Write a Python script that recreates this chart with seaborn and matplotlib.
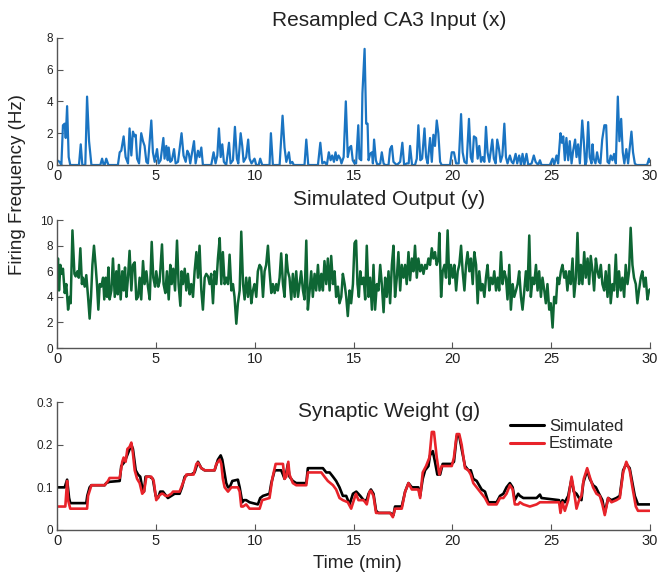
import pandas as pd
import seaborn as sns
import matplotlib
matplotlib.use("Agg")
import matplotlib.pyplot as plt

# Resampled CA3 input (x): time in minutes, firing frequency in Hz
x_t = [0.00, 0.13, 0.22, 0.30, 0.39, 0.44, 0.51, 0.59, 0.67, 1.11, 1.20, 1.28, 1.43, 1.52, 1.62, 1.74,
       2.19, 2.28, 2.36, 2.41, 2.49, 2.60, 3.08, 3.17, 3.25, 3.37, 3.47, 3.59, 3.67, 3.76, 3.84, 3.93,
       3.98, 4.05, 4.15, 4.26, 4.35, 4.43, 4.52, 4.60, 4.77, 4.85, 4.94, 5.06, 5.14, 5.24, 5.38, 5.44,
       5.53, 5.60, 5.65, 5.73, 5.81, 5.92, 6.00, 6.12, 6.30, 6.40, 6.51, 6.59, 6.67, 6.74, 6.93, 7.01,
       7.13, 7.21, 7.30, 7.38, 7.80, 7.92, 8.02, 8.11, 8.19, 8.28, 8.36, 8.44, 8.56, 8.70, 8.78, 8.90,
       9.00, 9.10, 9.17, 9.29, 9.37, 9.44, 9.57, 9.67, 9.74, 9.84, 9.99, 10.08, 10.20, 10.28, 10.38,
       10.75, 10.82, 10.92, 11.26, 11.41, 11.51, 11.60, 11.73, 11.80, 11.90, 11.98, 12.52, 12.61, 12.71,
       13.20, 13.32, 13.42, 13.53, 13.65, 13.75, 13.84, 13.92, 14.01, 14.09, 14.16, 14.24, 14.33, 14.39,
       14.50, 14.61, 14.71, 14.80, 14.88, 14.96, 15.05, 15.13, 15.24, 15.30, 15.39, 15.45, 15.56, 15.64,
       15.71, 15.76, 15.84, 15.93, 15.98, 16.04, 16.13, 16.21, 16.35, 16.43, 16.52, 16.60, 16.77, 16.85,
       16.94, 17.02, 17.10, 17.19, 17.36, 17.47, 17.56, 17.69, 17.79, 17.86, 17.96, 18.11, 18.20, 18.28,
       18.38, 18.47, 18.59, 18.67, 18.75, 18.87, 18.96, 19.04, 19.12, 19.21, 19.29, 19.38, 19.46, 19.88,
       19.97, 20.08, 20.19, 20.32, 20.44, 20.52, 20.61, 20.72, 20.84, 20.93, 21.01, 21.09, 21.20, 21.28,
       21.36, 21.45, 21.53, 21.62, 21.70, 21.78, 21.87, 22.02, 22.10, 22.19, 22.27, 22.36, 22.44, 22.53,
       22.63, 22.71, 22.79, 22.91, 23.00, 23.08, 23.20, 23.28, 23.38, 23.47, 23.55, 23.64, 23.75, 23.84,
       24.01, 24.12, 24.21, 24.34, 24.43, 24.51, 24.93, 25.07, 25.15, 25.27, 25.35, 25.47, 25.54, 25.61,
       25.69, 25.77, 25.86, 25.94, 26.03, 26.11, 26.21, 26.28, 26.36, 26.45, 26.57, 26.65, 26.72, 26.78,
       26.87, 26.95, 27.04, 27.09, 27.15, 27.24, 27.32, 27.41, 27.49, 27.58, 27.69, 27.78, 27.85, 27.93,
       28.01, 28.10, 28.18, 28.27, 28.37, 28.45, 28.54, 28.62, 28.70, 28.80, 28.89, 29.06, 29.14, 29.23,
       29.31, 29.85, 29.95, 29.98]
x_val = [0.3, 0.2, 0.0, 2.5, 2.6, 1.7, 3.7, 0.5, 0.0, 0.0, 1.3, 0.0, 0.0, 4.3, 1.5, 0.0,
         0.0, 0.4, 0.0, 0.0, 0.4, 0.0, 0.0, 0.8, 0.9, 1.8, 0.5, 0.1, 2.3, 0.6, 2.1, 1.8,
         1.9, 0.4, 0.1, 2.0, 1.5, 1.2, 0.2, 0.1, 2.8, 0.8, 0.2, 1.0, 0.1, 0.3, 1.7, 0.4,
         1.2, 0.3, 1.1, 0.2, 0.3, 1.0, 0.1, 0.2, 2.0, 0.6, 0.2, 0.9, 0.7, 0.1, 1.5, 0.1,
         0.9, 0.5, 1.1, 0.0, 0.0, 0.8, 0.1, 0.6, 2.3, 0.5, 1.3, 0.2, 0.0, 1.4, 0.1, 0.3,
         2.4, 0.4, 0.1, 2.0, 1.2, 0.2, 0.5, 1.6, 0.4, 0.1, 0.4, 0.0, 0.0, 0.4, 0.0,
         0.0, 2.0, 0.0, 0.0, 3.1, 1.1, 0.2, 0.8, 0.1, 0.2, 0.0, 0.0, 1.6, 0.0,
         0.0, 1.4, 0.1, 0.2, 0.0, 0.8, 0.3, 0.6, 0.2, 0.8, 0.3, 0.6, 0.4, 0.1,
         0.5, 4.0, 0.5, 1.1, 1.2, 0.3, 0.1, 0.1, 2.5, 0.4, 0.3, 4.5, 7.3, 2.6,
         2.6, 0.3, 0.7, 0.8, 0.1, 1.6, 0.3, 0.0, 0.1, 0.8, 0.1, 0.0, 0.0, 1.0,
         1.2, 0.2, 0.1, 0.0, 0.2, 1.4, 0.0, 0.1, 0.1, 1.2, 0.0, 0.0, 0.4, 2.5,
         0.3, 0.4, 2.3, 0.5, 0.1, 1.7, 0.2, 1.9, 1.2, 2.8, 2.0, 0.2, 0.0, 0.0,
         0.8, 0.8, 0.1, 0.1, 3.2, 0.8, 0.2, 0.1, 2.9, 0.5, 0.2, 1.8, 1.7, 0.4,
         1.2, 0.2, 0.5, 0.2, 2.4, 0.8, 0.2, 1.6, 0.4, 0.1, 1.6, 1.0, 0.2, 0.6,
         2.6, 0.5, 0.1, 0.6, 0.2, 0.1, 0.7, 0.1, 0.6, 0.0, 0.7, 0.0, 0.7, 0.0,
         0.1, 0.6, 0.2, 0.0, 0.3, 0.0, 0.0, 0.4, 0.0, 0.6, 0.1, 2.0, 1.4, 1.8,
         0.3, 1.7, 0.3, 1.5, 0.1, 0.9, 1.6, 0.5, 1.3, 0.1, 2.8, 1.5, 0.0, 0.2,
         2.7, 0.5, 0.1, 1.3, 0.4, 0.1, 0.8, 0.2, 0.1, 1.6, 2.5, 2.5, 0.2, 0.1,
         0.6, 0.3, 0.7, 0.1, 4.3, 1.5, 2.9, 0.8, 0.1, 1.0, 0.1, 2.1, 0.8, 0.1,
         0.0, 0.0, 0.4, 0.2]

# Simulated output (y)
y_t = [0.00, 0.05, 0.10, 0.17, 0.24, 0.30, 0.39, 0.47, 0.56, 0.64, 0.69, 0.78, 0.88, 0.94, 1.03, 1.10,
       1.18, 1.26, 1.31, 1.40, 1.48, 1.57, 1.65, 1.72, 1.79, 1.87, 1.96, 2.02, 2.09, 2.16, 2.24, 2.33,
       2.39, 2.46, 2.53, 2.60, 2.66, 2.75, 2.83, 2.92, 3.00, 3.07, 3.13, 3.22, 3.30, 3.37, 3.44, 3.51,
       3.59, 3.67, 3.76, 3.84, 3.93, 4.01, 4.10, 4.18, 4.26, 4.35, 4.43, 4.52, 4.60, 4.69, 4.79, 4.87,
       4.96, 5.02, 5.12, 5.19, 5.31, 5.39, 5.48, 5.56, 5.65, 5.73, 5.80, 5.88, 5.97, 6.07, 6.15, 6.24,
       6.30, 6.37, 6.46, 6.54, 6.62, 6.71, 6.79, 6.88, 6.96, 7.05, 7.13, 7.21, 7.30, 7.38, 7.47, 7.55,
       7.64, 7.72, 7.80, 7.89, 7.97, 8.06, 8.14, 8.23, 8.31, 8.39, 8.48, 8.56, 8.65, 8.73, 8.82, 8.90,
       8.98, 9.07, 9.15, 9.24, 9.32, 9.41, 9.49, 9.57, 9.66, 9.74, 9.83, 9.91, 9.99, 10.08, 10.16, 10.25,
       10.33, 10.42, 10.50, 10.58, 10.67, 10.75, 10.84, 10.92, 11.01, 11.09, 11.17, 11.26, 11.34, 11.43,
       11.51, 11.60, 11.68, 11.76, 11.85, 11.93, 12.02, 12.10, 12.19, 12.27, 12.35, 12.44, 12.52, 12.61,
       12.69, 12.78, 12.86, 12.94, 13.03, 13.11, 13.20, 13.28, 13.37, 13.45, 13.53, 13.62, 13.70, 13.79,
       13.87, 13.96, 14.04, 14.12, 14.21, 14.29, 14.38, 14.46, 14.55, 14.63, 14.71, 14.80, 14.88, 14.97,
       15.05, 15.13, 15.20, 15.27, 15.34, 15.42, 15.51, 15.59, 15.67, 15.76, 15.84, 15.93, 16.01, 16.09,
       16.18, 16.26, 16.35, 16.43, 16.52, 16.60, 16.68, 16.77, 16.85, 16.94, 17.02, 17.10, 17.19, 17.27,
       17.36, 17.44, 17.53, 17.61, 17.69, 17.78, 17.86, 17.95, 18.03, 18.11, 18.20, 18.28, 18.37, 18.45,
       18.54, 18.62, 18.70, 18.79, 18.87, 18.96, 19.04, 19.12, 19.21, 19.29, 19.34, 19.43, 19.51, 19.60,
       19.68, 19.76, 19.85, 19.93, 20.02, 20.10, 20.19, 20.27, 20.35, 20.44, 20.52, 20.61, 20.69, 20.77,
       20.86, 20.94, 21.03, 21.11, 21.20, 21.28, 21.36, 21.45, 21.53, 21.62, 21.70, 21.78, 21.87, 21.95,
       22.04, 22.12, 22.21, 22.29, 22.37, 22.46, 22.54, 22.63, 22.71, 22.79, 22.88, 22.96, 23.05, 23.13,
       23.22, 23.30, 23.38, 23.47, 23.55, 23.64, 23.72, 23.80, 23.89, 23.97, 24.06, 24.14, 24.23, 24.31,
       24.39, 24.48, 24.56, 24.65, 24.73, 24.81, 24.90, 24.98, 25.07, 25.15, 25.24, 25.32, 25.40, 25.49,
       25.57, 25.66, 25.74, 25.82, 25.91, 25.99, 26.08, 26.16, 26.25, 26.33, 26.41, 26.50, 26.58, 26.67,
       26.75, 26.84, 26.92, 27.00, 27.09, 27.17, 27.26, 27.34, 27.42, 27.51, 27.59, 27.68, 27.76, 27.85,
       27.93, 28.01, 28.10, 28.18, 28.27, 28.35, 28.43, 28.52, 28.60, 28.69, 28.77, 28.86, 28.94, 29.02,
       29.11, 29.19, 29.28, 29.36, 29.44, 29.53, 29.61, 29.70, 29.78, 29.87, 29.95, 30.00]
y_val = [6.2, 7.0, 4.5, 6.5, 5.8, 6.2, 4.3, 5.0, 3.0, 4.0, 3.5, 9.2, 5.8, 5.6, 6.0, 5.5,
         7.8, 5.0, 5.5, 4.8, 5.7, 4.0, 2.3, 4.0, 6.5, 8.0, 6.3, 5.0, 3.0, 5.0, 4.8, 5.5,
         3.8, 5.5, 4.0, 6.3, 3.8, 4.5, 7.0, 4.0, 6.0, 4.2, 6.5, 3.8, 6.0, 4.5, 6.3, 4.0,
         5.5, 7.6, 4.5, 6.5, 6.7, 3.8, 4.0, 5.5, 3.8, 6.8, 5.0, 6.0, 4.8, 3.8, 8.3, 5.5,
         4.8, 6.0, 4.8, 5.2, 8.1, 5.0, 4.3, 6.0, 3.8, 6.5, 5.0, 6.2, 4.5, 8.4, 5.0, 3.3,
         6.0, 5.0, 6.2, 4.5, 5.8, 4.2, 5.0, 4.0, 6.0, 7.5, 5.5, 8.0, 4.5, 3.0, 5.5, 5.8,
         5.6, 5.0, 5.8, 3.5, 6.0, 5.0, 7.0, 8.6, 5.0, 7.5, 5.0, 5.5, 5.0, 7.3, 4.5, 5.0,
         4.0, 1.9, 3.5, 4.5, 9.1, 5.0, 3.8, 5.5, 4.0, 5.5, 3.5, 4.5, 5.0, 4.0, 6.0, 6.5,
         6.3, 4.0, 6.0, 6.5, 8.0, 6.0, 4.3, 5.0, 4.3, 5.0, 4.5, 5.5, 7.4, 5.0,
         4.0, 7.3, 6.0, 5.5, 3.8, 5.8, 4.0, 6.0, 4.0, 5.0, 6.0, 4.5, 3.8, 8.4,
         3.0, 4.5, 6.0, 4.0, 5.8, 4.5, 6.5, 4.5, 5.8, 4.5, 6.8, 5.0, 7.0, 4.5,
         7.2, 5.0, 6.0, 4.0, 4.8, 3.5, 4.0, 5.8, 5.0, 4.0, 2.5, 4.5, 3.5, 5.0,
         8.2, 8.4, 5.0, 4.0, 6.0, 5.0, 5.5, 3.8, 8.0, 4.0, 5.5, 3.0, 6.5, 3.0,
         5.0, 4.5, 6.5, 5.0, 2.8, 5.5, 4.0, 6.0, 3.5, 6.5, 8.0, 4.0, 5.5, 7.5,
         4.5, 6.5, 5.5, 6.5, 5.0, 7.5, 5.3, 7.0, 6.0, 8.0, 5.5, 7.0, 6.0, 6.5,
         5.8, 6.5, 6.2, 7.0, 6.5, 7.8, 7.0, 7.5, 6.5, 7.0, 9.0, 4.0, 6.0, 6.5,
         5.5, 9.2, 5.0, 6.5, 5.5, 6.5, 4.5, 6.0, 6.5, 8.0, 6.0, 4.5, 6.5, 7.5,
         6.0, 7.0, 5.0, 7.5, 6.5, 3.5, 6.0, 4.5, 5.0, 4.0, 5.5, 6.5, 4.5, 5.5,
         5.0, 6.0, 4.5, 5.5, 4.5, 7.5, 5.0, 6.0, 5.5, 3.8, 6.5, 3.0, 5.0, 4.0,
         4.5, 5.0, 6.0, 4.0, 3.0, 4.5, 6.0, 4.5, 8.8, 4.0, 5.5, 5.0, 6.5, 4.5,
         6.0, 4.0, 5.5, 4.5, 3.5, 5.0, 3.0, 3.5, 1.6, 4.0, 3.5, 5.5, 5.0, 6.0,
         6.5, 5.5, 6.0, 4.5, 6.0, 5.0, 7.0, 4.0, 5.5, 9.0, 5.0, 6.5, 5.0, 7.5,
         5.5, 7.0, 5.0, 7.2, 6.0, 4.5, 7.0, 6.0, 5.5, 6.5, 5.0, 4.5, 6.0, 4.0,
         6.5, 3.5, 5.0, 4.5, 7.3, 4.0, 6.0, 4.5, 5.5, 4.0, 6.5, 5.0, 6.0, 9.4,
         6.5, 5.5, 5.0, 3.5, 4.5, 5.5, 6.0, 4.8, 5.5, 3.8, 4.5, 4.6]

# Synaptic weight (g): simulated
sim_t = [0.00, 0.39, 0.51, 0.61, 0.67, 1.48, 1.53, 1.65, 1.74, 2.41, 2.49, 2.66, 3.17, 3.25, 3.42, 3.59,
         3.76, 3.84, 3.98, 4.10, 4.21, 4.31, 4.40, 4.48, 4.69, 4.85, 4.99, 5.11, 5.22, 5.36, 5.44, 5.61,
         5.78, 5.95, 6.20, 6.32, 6.46, 6.62, 6.79, 6.96, 7.13, 7.30, 7.47, 7.97, 8.14, 8.28, 8.36, 8.45,
         8.56, 8.65, 8.73, 8.87, 9.15, 9.24, 9.37, 9.46, 9.57, 9.74, 10.16, 10.28, 10.42, 10.75, 10.84,
         11.01, 11.34, 11.43, 11.51, 11.60, 11.68, 11.76, 11.93, 12.10, 12.61, 12.69, 13.45, 13.62, 13.79,
         13.96, 14.12, 14.29, 14.46, 14.63, 14.80, 14.97, 15.14, 15.34, 15.51, 15.67, 15.76, 15.88, 16.01,
         16.14, 16.26, 16.85, 17.02, 17.10, 17.44, 17.61, 17.78, 17.95, 18.28, 18.37, 18.50, 18.62, 18.79,
         18.87, 19.01, 19.12, 19.24, 19.38, 19.51, 19.97, 20.08, 20.22, 20.35, 20.47, 20.64, 20.81, 20.93,
         21.06, 21.23, 21.48, 21.65, 21.82, 22.24, 22.41, 22.58, 22.74, 22.91, 23.05, 23.16, 23.33, 23.42,
         23.59, 24.26, 24.43, 24.51, 25.40, 25.47, 25.57, 25.69, 25.86, 26.03, 26.14, 26.28, 26.41, 26.53,
         26.62, 26.82, 26.95, 27.12, 27.26, 27.42, 27.59, 27.71, 27.88, 28.05, 28.30, 28.47, 28.64, 28.80,
         28.97, 29.11, 29.23, 29.39, 29.98]
sim_val = [0.100, 0.100, 0.118, 0.075, 0.063, 0.063, 0.080, 0.100, 0.105, 0.105, 0.110, 0.113, 0.115,
           0.150, 0.160, 0.180, 0.200, 0.190, 0.140, 0.130, 0.125, 0.100, 0.090, 0.125, 0.125, 0.120,
           0.080, 0.075, 0.090, 0.090, 0.085, 0.075, 0.080, 0.085, 0.085, 0.100, 0.125, 0.130, 0.130,
           0.135, 0.160, 0.145, 0.140, 0.140, 0.165, 0.175, 0.165, 0.140, 0.110, 0.100, 0.100, 0.115,
           0.118, 0.100, 0.065, 0.070, 0.070, 0.065, 0.060, 0.075, 0.080, 0.085, 0.110, 0.140, 0.140,
           0.130, 0.120, 0.135, 0.155, 0.125, 0.115, 0.110, 0.110, 0.145, 0.145, 0.135, 0.135, 0.125,
           0.115, 0.100, 0.080, 0.080, 0.060, 0.085, 0.090, 0.080, 0.070, 0.070, 0.085, 0.095, 0.085,
           0.045, 0.040, 0.040, 0.035, 0.055, 0.055, 0.090, 0.110, 0.100, 0.100, 0.080, 0.120, 0.140,
           0.150, 0.175, 0.185, 0.160, 0.130, 0.130, 0.155, 0.155, 0.160, 0.220, 0.220, 0.190, 0.150,
           0.140, 0.140, 0.120, 0.115, 0.095, 0.090, 0.065, 0.065, 0.080, 0.085, 0.100, 0.110, 0.100,
           0.070, 0.085, 0.080, 0.075, 0.075, 0.083, 0.075, 0.070, 0.055, 0.070, 0.065, 0.080, 0.120,
           0.090, 0.085, 0.075, 0.070, 0.110, 0.140, 0.120, 0.105, 0.100, 0.085, 0.070, 0.040, 0.075,
           0.070, 0.075, 0.080, 0.140, 0.155, 0.145, 0.110, 0.080, 0.060, 0.060]

# Synaptic weight (g): estimate
est_t = [0.00, 0.42, 0.51, 0.56, 0.67, 1.52, 1.57, 1.74, 2.41, 2.58, 2.66, 3.17, 3.30, 3.37, 3.47, 3.56,
         3.67, 3.76, 3.84, 3.93, 4.05, 4.18, 4.31, 4.40, 4.52, 4.77, 4.89, 5.02, 5.16, 5.28, 5.36, 5.49,
         5.61, 5.78, 5.87, 6.20, 6.37, 6.54, 6.91, 7.05, 7.13, 7.30, 7.47, 7.97, 8.06, 8.23, 8.31, 8.39,
         8.48, 8.65, 8.82, 9.15, 9.24, 9.32, 9.41, 9.57, 9.74, 10.25, 10.38, 10.75, 10.89, 11.06, 11.43,
         11.51, 11.60, 11.70, 11.76, 11.93, 12.10, 12.61, 12.69, 13.37, 13.53, 13.70, 13.96, 14.12, 14.29,
         14.46, 14.71, 14.88, 15.05, 15.12, 15.25, 15.51, 15.67, 15.81, 15.88, 16.01, 16.14, 16.85, 16.99,
         17.10, 17.44, 17.61, 17.78, 17.95, 18.28, 18.37, 18.50, 18.67, 18.84, 18.96, 19.07, 19.21, 19.34,
         19.46, 19.97, 20.08, 20.22, 20.35, 20.47, 20.64, 20.81, 20.93, 21.06, 21.23, 21.48, 21.65, 21.82,
         22.24, 22.41, 22.58, 22.74, 22.91, 23.05, 23.16, 23.33, 23.42, 23.59, 23.92, 24.26, 24.43, 25.40,
         25.47, 25.57, 25.69, 25.86, 26.03, 26.14, 26.28, 26.41, 26.53, 26.65, 26.82, 26.95, 27.12, 27.29,
         27.46, 27.59, 27.71, 27.88, 28.05, 28.30, 28.47, 28.64, 28.80, 28.97, 29.11, 29.28, 29.39, 29.98]
est_val = [0.055, 0.055, 0.115, 0.070, 0.050, 0.050, 0.080, 0.105, 0.105, 0.115, 0.122, 0.122, 0.160,
           0.170, 0.160, 0.190, 0.195, 0.205, 0.180, 0.140, 0.120, 0.110, 0.085, 0.090, 0.125, 0.125,
           0.115, 0.070, 0.080, 0.085, 0.085, 0.080, 0.080, 0.085, 0.090, 0.090, 0.110, 0.130, 0.130,
           0.155, 0.158, 0.145, 0.140, 0.140, 0.155, 0.165, 0.155, 0.120, 0.100, 0.090, 0.100, 0.100,
           0.090, 0.055, 0.055, 0.060, 0.050, 0.050, 0.070, 0.075, 0.120, 0.155, 0.155, 0.120, 0.125,
           0.160, 0.130, 0.110, 0.105, 0.105, 0.135, 0.135, 0.125, 0.115, 0.105, 0.095, 0.075, 0.070,
           0.065, 0.050, 0.075, 0.085, 0.070, 0.070, 0.060, 0.090, 0.092, 0.080, 0.040, 0.040, 0.030,
           0.050, 0.050, 0.090, 0.110, 0.095, 0.095, 0.075, 0.135, 0.150, 0.170, 0.230, 0.230, 0.170,
           0.130, 0.150, 0.150, 0.170, 0.225, 0.225, 0.200, 0.145, 0.140, 0.130, 0.110, 0.100, 0.085,
           0.075, 0.060, 0.060, 0.075, 0.075, 0.085, 0.105, 0.095, 0.060, 0.060, 0.065, 0.060, 0.055,
           0.060, 0.065, 0.065, 0.040, 0.065, 0.045, 0.070, 0.125, 0.095, 0.050, 0.070, 0.080, 0.120,
           0.145, 0.125, 0.100, 0.085, 0.080, 0.060, 0.035, 0.075, 0.065, 0.070, 0.075, 0.135, 0.160,
           0.140, 0.100, 0.055, 0.045, 0.045]

titles = ["Resampled CA3 Input (x)", "Simulated Output (y)", "Synaptic Weight (g)"]
x_ticks = [0, 5, 10, 15, 20, 25, 30]

blue = "#1a74c2"
green = "#0e6634"
red = "#e8232a"
axis_gray = "#555555"

sns.set_theme(style="ticks")
plt.rcParams["font.family"] = ["Liberation Sans", "DejaVu Sans"]

df_x = pd.DataFrame({"t": x_t, "v": x_val})
df_y = pd.DataFrame({"t": y_t, "v": y_val})
df_g = pd.concat([
    pd.DataFrame({"t": sim_t, "v": sim_val, "serie": "Simulated"}),
    pd.DataFrame({"t": est_t, "v": est_val, "serie": "Estimate"}),
], ignore_index=True)

fig = plt.figure(figsize=(6.6, 5.76), dpi=100)
ax1 = fig.add_axes([0.0864, 0.7135, 0.8985, 0.221])
ax2 = fig.add_axes([0.0864, 0.3958, 0.8985, 0.222])
ax3 = fig.add_axes([0.0864, 0.0799, 0.8985, 0.222])

sns.lineplot(data=df_x, x="t", y="v", ax=ax1, color=blue, linewidth=1.6, estimator=None)
sns.lineplot(data=df_y, x="t", y="v", ax=ax2, color=green, linewidth=1.8, estimator=None)
sns.lineplot(data=df_g, x="t", y="v", hue="serie", hue_order=["Simulated", "Estimate"],
             palette={"Simulated": "black", "Estimate": red}, ax=ax3, linewidth=1.9,
             estimator=None)

limits = [(0, 8, [0, 2, 4, 6, 8], ["0", "2", "4", "6", "8"]),
          (0, 10, [0, 2, 4, 6, 8, 10], ["0", "2", "4", "6", "8", "10"]),
          (0, 0.3, [0, 0.1, 0.2, 0.3], ["0", "0.1", "0.2", "0.3"])]

for ax, (lo, hi, yt, ylab) in zip([ax1, ax2, ax3], limits):
    ax.set_xlim(0, 30)
    ax.set_ylim(lo, hi)
    ax.set_xticks(x_ticks)
    ax.set_xticklabels([str(v) for v in x_ticks], fontsize=10.5)
    ax.set_yticks(yt)
    ax.set_yticklabels(ylab, fontsize=8.5)
    ax.set_xlabel("")
    ax.set_ylabel("")
    sns.despine(ax=ax)
    for s in ["left", "bottom"]:
        ax.spines[s].set_color(axis_gray)
        ax.spines[s].set_linewidth(1.0)
    ax.tick_params(direction="in", length=4, color=axis_gray, width=0.8, pad=3,
                   labelcolor="#222222")

leg = ax3.legend(loc="upper left", bbox_to_anchor=(0.745, 0.96), frameon=False,
                 fontsize=12, handlelength=2.0, handletextpad=0.3, labelspacing=0.15,
                 borderpad=0.2)
for line in leg.get_lines():
    line.set_linewidth(2.2)

fig.text(0.59, 0.965, titles[0], ha="center", va="center", fontsize=15, color="#222222")
fig.text(0.59, 0.653, titles[1], ha="center", va="center", fontsize=15, color="#222222")
fig.text(0.59, 0.286, titles[2], ha="center", va="center", fontsize=15, color="#222222")
fig.text(0.027, 0.679, "Firing Frequency (Hz)", rotation=90, ha="center", va="center",
         fontsize=13.5, color="#222222")
fig.text(0.541, 0.022, "Time (min)", ha="center", va="center", fontsize=13.5, color="#222222")

fig.savefig("out.png", dpi=100)
